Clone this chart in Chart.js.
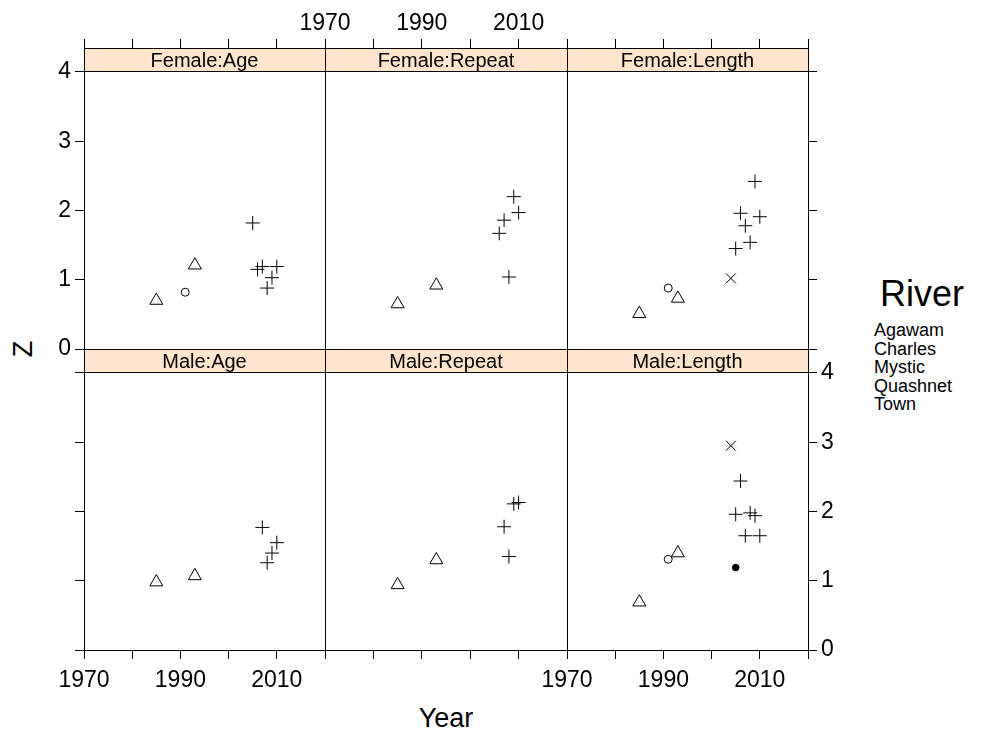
<!DOCTYPE html>
<html>
<head>
<meta charset="utf-8">
<title>Z by Year</title>
<script src="https://cdn.jsdelivr.net/npm/chart.js@4.4.1/dist/chart.umd.min.js"></script>
<style>
    body { margin: 0; background: #fff; width: 982px; height: 732px; position: relative; overflow: hidden;
           font-family: "Liberation Sans", Arial, sans-serif; color: #000; }
    .lbl { position: absolute; white-space: nowrap; line-height: 1; }
</style>
</head>
<body>
<div class="lbl" id="ylab" style="left:23px;top:349px;font-size:27px;transform:translate(-50%,-50%) rotate(-90deg)">Z</div>
<div class="lbl" id="xlab" style="left:446px;top:718px;font-size:27px;transform:translate(-50%,-50%)">Year</div>
<div class="lbl" id="keyTitle" style="left:922px;top:294px;font-size:36px;transform:translate(-50%,-50%)">River</div>
<div class="lbl" id="keyItems" style="left:874px;top:321px;font-size:18px;line-height:18.5px"></div>

<script>
// --------------------
// data
// --------------------
const panelNames = ["Female:Age", "Female:Repeat", "Female:Length", "Male:Age", "Male:Repeat", "Male:Length"];
const rivers = ["Agawam", "Charles", "Mystic", "Quashnet", "Town"];
const xTicks = [1970, 1980, 1990, 2000, 2010, 2020];
const xLabels = [1970, 1990, 2010];
const yTicks = [0, 1, 2, 3, 4];

// sampling years per river
const agawamYears = [1991];
const charlesYears = [1985, 1993];
const mysticYears = [2005, 2006, 2007, 2008, 2009, 2010];
const quashnetYears = [2004];
const townYears = [2005];

// Z values, one row per panel (panelNames order), null = no point
const agawamZ = [[0.82], [null], [0.88], [null], [null], [1.31]];
const charlesZ = [[0.70, 1.21], [0.65, 0.92], [0.51, 0.73], [0.98, 1.07], [0.94, 1.30], [0.69, 1.40]];
const mysticZ = [
    [1.82, 1.15, 1.19, 0.88, 1.03, 1.19],
    [null, 1.67, 1.86, 1.04, 2.20, 1.97],
    [1.45, 1.96, 1.78, 1.54, 2.42, 1.91],
    [null, null, 1.77, 1.26, 1.40, 1.55],
    [null, null, 1.78, 1.35, 2.11, 2.13],
    [1.96, 2.44, 1.65, 1.98, 1.94, 1.65]
];
const quashnetZ = [[null], [null], [1.02], [null], [null], [2.95]];
const townZ = [[null], [null], [null], [null], [null], [1.19]];

const riverYears = [agawamYears, charlesYears, mysticYears, quashnetYears, townYears];
const riverZ = [agawamZ, charlesZ, mysticZ, quashnetZ, townZ];

// --------------------
// look
// --------------------
const FONT = '"Liberation Sans", Arial, sans-serif';
const riverStyle = [
    { pointStyle: "circle", radius: 4, fill: "rgba(0,0,0,0)" },
    { pointStyle: "triangle", radius: 7.5, fill: "rgba(0,0,0,0)" },
    { pointStyle: "cross", radius: 7, fill: "rgba(0,0,0,0)" },
    { pointStyle: "crossRot", radius: 7, fill: "rgba(0,0,0,0)" },
    { pointStyle: "circle", radius: 3.3, fill: "#000" }
];

const colEdges = [84, 325, 567, 808];
const rowTops = [48, 349];
const STRIP = 24, PLOT = 277, M = 70;
const yMax = 4 * (STRIP + PLOT) / PLOT;   // extra room on top holds the strip

document.getElementById("keyItems").innerHTML = rivers.join("<br>");

Chart.defaults.font.family = FONT;

function xAxis(pos, marks, labels) {
    return {
        type: "linear", position: pos, min: 1970, max: 2020,
        afterBuildTicks: s => { s.ticks = xTicks.map(v => ({ value: v })); },
        afterFit: s => { s.height = M; },
        grid: { display: marks, drawOnChartArea: false, drawTicks: true, tickLength: 9, color: "#000", lineWidth: 1 },
        border: { display: false },
        ticks: {
            display: labels, autoSkip: false, maxRotation: 0, padding: pos === "top" ? 2 : 8,
            color: "#000", font: { size: 23 },
            callback: v => xLabels.includes(v) ? String(v) : ""
        }
    };
}

function yAxis(pos, marks, labels) {
    return {
        type: "linear", position: pos, min: 0, max: yMax,
        afterBuildTicks: s => { s.ticks = yTicks.map(v => ({ value: v })); },
        afterFit: s => { s.width = M; },
        grid: { display: marks, drawOnChartArea: false, drawTicks: true, tickLength: 9, color: "#000", lineWidth: 1 },
        border: { display: false },
        ticks: { display: labels, padding: 4, color: "#000", font: { size: 23 }, callback: v => String(v) }
    };
}

// strip + panel frame
const latticeFrame = {
    id: "latticeFrame",
    beforeDatasetsDraw(chart, args, opts) {
        const a = chart.chartArea, ctx = chart.ctx;
        const y4 = Math.floor(chart.scales.y.getPixelForValue(4)) + 0.5;
        const t = Math.floor(a.top) + 0.5;
        ctx.save();
        ctx.fillStyle = "#ffe5cc";
        ctx.fillRect(a.left, a.top, a.right - a.left, y4 - a.top);
        ctx.fillStyle = "#000";
        ctx.font = "20px " + FONT;
        ctx.textAlign = "center";
        ctx.textBaseline = "middle";
        ctx.fillText(opts.label, (a.left + a.right) / 2, (t + y4) / 2 + 1);
        ctx.restore();
    },
    afterDraw(chart) {
        const a = chart.chartArea, ctx = chart.ctx;
        const l = Math.floor(a.left) + 0.5, r = Math.floor(a.right) + 0.5;
        const t = Math.floor(a.top) + 0.5, b = Math.floor(a.bottom) + 0.5;
        const y4 = Math.floor(chart.scales.y.getPixelForValue(4)) + 0.5;
        ctx.save();
        ctx.strokeStyle = "#000";
        ctx.lineWidth = 1;
        ctx.strokeRect(l, t, r - l, b - t);
        ctx.beginPath();
        ctx.moveTo(l, y4);
        ctx.lineTo(r, y4);
        ctx.stroke();
        ctx.restore();
    }
};

// --------------------
// one chart per panel
// --------------------
panelNames.forEach((name, i) => {
    const row = Math.floor(i / 3), col = i % 3;
    const left = colEdges[col], w = colEdges[col + 1] - left;
    const top = rowTops[row], h = STRIP + PLOT;

    const cv = document.createElement("canvas");
    cv.width = w + 2 * M;
    cv.height = h + 2 * M;
    cv.style.position = "absolute";
    cv.style.left = (left - M) + "px";
    cv.style.top = (top - M) + "px";
    document.body.appendChild(cv);

    const datasets = rivers.map((river, k) => ({
        label: river,
        data: riverYears[k]
            .map((yr, j) => ({ x: yr, y: riverZ[k][i][j] }))
            .filter(p => p.y !== null),
        pointStyle: riverStyle[k].pointStyle,
        pointRadius: riverStyle[k].radius,
        pointBorderColor: "#000",
        pointBorderWidth: 1,
        pointBackgroundColor: riverStyle[k].fill,
        showLine: false
    }));

    new Chart(cv, {
        type: "scatter",
        data: { datasets: datasets },
        options: {
            responsive: false,
            animation: false,
            events: [],
            layout: { padding: 0 },
            plugins: {
                legend: { display: false },
                tooltip: { enabled: false },
                latticeFrame: { label: name }
            },
            scales: {
                x: xAxis("bottom", row === 1, row === 1 && col !== 1),
                x2: xAxis("top", row === 0, row === 0 && col === 1),
                y: yAxis("left", col === 0, col === 0 && row === 0),
                y2: yAxis("right", col === 2, col === 2 && row === 1)
            }
        },
        plugins: [latticeFrame]
    });
});
</script>
</body>
</html>
